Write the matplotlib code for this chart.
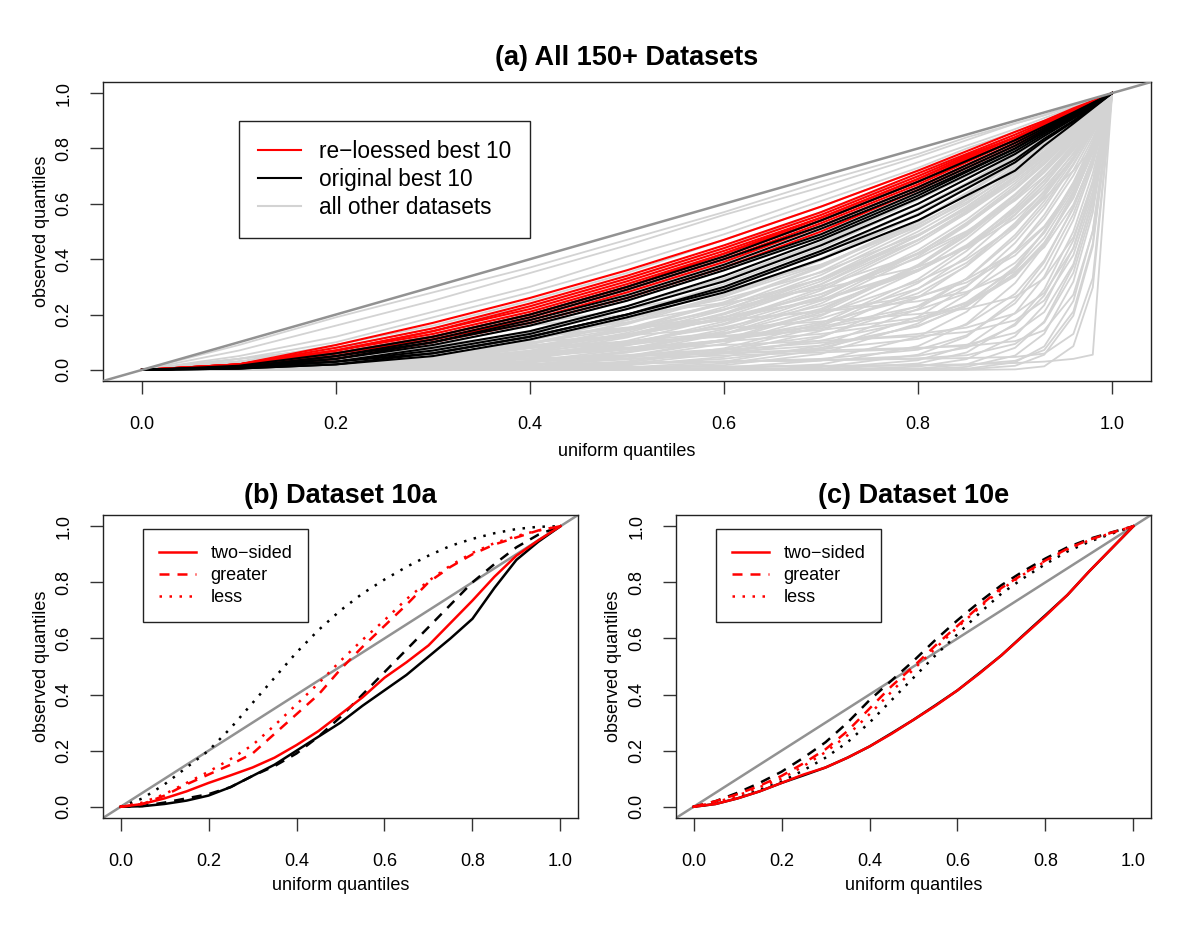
import matplotlib
matplotlib.use('Agg')
import matplotlib.pyplot as plt
from matplotlib.lines import Line2D

plt.rcParams['font.family'] = ['Liberation Sans', 'DejaVu Sans']

# ---------------- panel (a) data: quantile curves on a common grid ----------------
GX = [0, .1, .2, .3, .4, .5, .6, .7, .8, .85, .9, .93, .96, .98, 1.0]

red_best = [
    [0, .02, .09, .17, .26, .36, .47, .59, .72, .79, .86, .90, .945, .972, 1],
    [0, .02, .08, .15, .24, .34, .45, .57, .71, .78, .85, .895, .94, .97, 1],
    [0, .02, .07, .14, .23, .33, .44, .56, .70, .775, .84, .89, .937, .968, 1],
    [0, .02, .07, .14, .22, .32, .43, .55, .69, .77, .84, .888, .935, .967, 1],
    [0, .02, .07, .13, .21, .31, .42, .55, .69, .765, .84, .886, .934, .967, 1],
    [0, .02, .06, .12, .20, .30, .42, .54, .68, .76, .83, .882, .932, .966, 1],
    [0, .015, .06, .12, .20, .30, .41, .54, .68, .755, .83, .88, .93, .965, 1],
    [0, .015, .06, .11, .19, .29, .40, .53, .67, .75, .83, .878, .929, .964, 1],
    [0, .01, .05, .11, .18, .28, .39, .52, .66, .74, .82, .873, .927, .963, 1],
    [0, .01, .04, .10, .17, .26, .37, .50, .65, .73, .81, .866, .922, .96, 1],
]

black_best = [
    [0, .015, .06, .12, .20, .30, .41, .54, .68, .755, .83, .88, .93, .965, 1],
    [0, .01, .05, .11, .19, .29, .40, .52, .66, .74, .82, .873, .927, .963, 1],
    [0, .01, .05, .10, .18, .27, .38, .51, .65, .73, .81, .867, .923, .961, 1],
    [0, .01, .04, .10, .17, .26, .37, .49, .64, .72, .80, .862, .92, .96, 1],
    [0, .01, .04, .09, .16, .25, .36, .48, .63, .715, .80, .858, .917, .958, 1],
    [0, .01, .03, .08, .14, .23, .34, .47, .62, .705, .79, .852, .913, .956, 1],
    [0, .01, .03, .07, .13, .22, .32, .45, .60, .69, .78, .845, .908, .953, 1],
    [0, .005, .03, .06, .12, .20, .30, .43, .58, .67, .76, .835, .90, .95, 1],
    [0, .005, .02, .06, .12, .20, .29, .42, .56, .655, .75, .828, .897, .948, 1],
    [0, .005, .02, .05, .11, .19, .28, .40, .54, .63, .72, .81, .89, .945, 1],
]

gray_other = [
    [0, .09, .19, .28, .37, .47, .57, .68, .78, .84, .89, .92, .955, .978, 1],
    [0, .07, .16, .25, .35, .45, .56, .66, .77, .83, .89, .92, .955, .977, 1],
    [0, .05, .12, .21, .30, .41, .51, .63, .75, .81, .87, .91, .95, .974, 1],
    [0, .04, .10, .19, .28, .38, .49, .61, .73, .80, .86, .90, .945, .972, 1],
    [0, .03, .09, .16, .25, .35, .47, .59, .72, .78, .85, .90, .94, .97, 1],
    [0, .025, .08, .15, .23, .33, .44, .57, .70, .77, .84, .89, .94, .97, 1],
    [0, .02, .065, .13, .21, .31, .42, .55, .68, .76, .84, .88, .93, .966, 1],
    [0, .015, .05, .11, .18, .28, .39, .52, .66, .74, .82, .875, .93, .963, 1],
    [0, .01, .04, .09, .16, .25, .36, .49, .64, .72, .81, .865, .92, .96, 1],
    [0, .007, .03, .075, .14, .23, .33, .46, .62, .70, .80, .855, .915, .958, 1],
    [0, .005, .025, .063, .12, .20, .31, .44, .60, .69, .785, .846, .91, .955, 1],
    [0, .004, .02, .05, .106, .18, .29, .42, .58, .67, .77, .837, .905, .952, 1],
    [0, .003, .015, .044, .092, .165, .265, .396, .56, .655, .76, .828, .90, .949, 1],
    [0, .002, .012, .037, .08, .15, .245, .375, .54, .64, .75, .82, .894, .946, 1],
    [0, .001, .01, .03, .07, .134, .227, .355, .524, .62, .737, .81, .888, .943, 1],
    [0, .001, .008, .027, .064, .125, .216, .343, .512, .614, .729, .804, .885, .941, 1],
    [0, .001, .005, .02, .05, .105, .19, .31, .485, .59, .71, .79, .876, .937, 1],
    [0, 0, .004, .015, .04, .088, .167, .287, .458, .566, .692, .776, .867, .932, 1],
    [0, 0, .003, .011, .032, .075, .147, .262, .433, .543, .674, .762, .858, .927, 1],
    [0, 0, .002, .008, .026, .063, .13, .24, .41, .522, .656, .748, .849, .922, 1],
    [0, 0, .001, .006, .02, .05, .11, .215, .38, .497, .635, .732, .839, .917, 1],
    [0, 0, .001, .004, .015, .042, .095, .195, .358, .474, .616, .716, .829, .911, 1],
    [0, 0, 0, .002, .01, .031, .078, .168, .328, .444, .59, .696, .815, .904, 1],
    [0, 0, 0, .001, .006, .022, .06, .141, .293, .409, .56, .67, .80, .895, 1],
    [0, 0, 0, 0, .004, .016, .047, .118, .262, .377, .531, .647, .783, .886, 1],
    [0, 0, 0, 0, .002, .009, .03, .088, .22, .33, .488, .61, .758, .872, 1],
    [0, 0, 0, 0, .001, .004, .017, .058, .168, .272, .43, .56, .721, .851, 1],
    [0, 0, 0, 0, 0, .001, .008, .034, .12, .21, .367, .502, .678, .825, 1],
    [0, 0, 0, 0, 0, 0, .004, .02, .086, .167, .314, .45, .638, .801, 1],
    [0, 0, 0, 0, 0, 0, .001, .01, .055, .12, .254, .389, .588, .769, 1],
    [0, 0, 0, 0, 0, 0, 0, .005, .035, .087, .206, .337, .542, .739, 1],
    [0, 0, 0, 0, 0, 0, 0, .002, .023, .063, .167, .291, .50, .71, 1],
    [0, 0, 0, 0, 0, 0, 0, 0, .012, .039, .122, .234, .442, .668, 1],
    [0, 0, 0, 0, 0, 0, 0, 0, .005, .02, .08, .175, .375, .616, 1],
    [0, 0, 0, 0, 0, 0, 0, 0, .002, .011, .052, .131, .319, .568, 1],
    [0, 0, 0, 0, 0, 0, 0, 0, 0, .004, .028, .085, .249, .503, 1],
    [0, 0, 0, 0, 0, 0, 0, 0, 0, .002, .015, .055, .196, .446, 1],
    [0, 0, 0, 0, 0, 0, 0, 0, 0, 0, .002, .013, .086, .298, 1],
    [0, .01, .02, .03, .041, .054, .075, .122, .231, .33, .477, .597, .745, .864, 1],
    [0, .02, .04, .06, .081, .103, .134, .186, .294, .387, .524, .634, .769, .877, 1],
    [0, .03, .06, .09, .121, .153, .192, .251, .358, .445, .571, .671, .793, .89, 1],
    [0, .005, .01, .015, .02, .025, .03, .04, .073, .125, .241, .367, .563, .751, 1],
    [0, .01, .02, .03, .04, .05, .06, .075, .112, .163, .275, .396, .584, .763, 1],
    [0, .02, .04, .06, .08, .10, .12, .144, .188, .24, .345, .456, .626, .787, 1],
    [0, .03, .06, .09, .12, .15, .18, .213, .265, .316, .414, .515, .667, .811, 1],
    [0, .005, .01, .015, .02, .025, .03, .035, .042, .053, .094, .171, .351, .589, 1],
    [0, .015, .03, .045, .06, .075, .09, .105, .122, .137, .179, .251, .415, .63, 1],
    [0, .025, .05, .075, .10, .125, .15, .175, .202, .221, .264, .331, .479, .671, 1],
    [0, .002, .004, .006, .008, .01, .012, .014, .016, .019, .033, .072, .211, .457, 1],
    [0, .01, .02, .03, .04, .05, .06, .07, .08, .086, .104, .143, .272, .499, 1],
    [0, .005, .01, .015, .02, .025, .03, .035, .04, .043, .047, .059, .13, .332, 1],
    [0, .01, .02, .032, .049, .078, .13, .221, .375, .485, .621, .719, .83, .912, 1],
    [0, .02, .04, .062, .088, .125, .182, .274, .422, .525, .652, .743, .844, .919, 1],
    [0, .03, .06, .091, .127, .172, .235, .328, .47, .566, .683, .766, .859, .927, 1],
    [0, .04, .08, .121, .166, .219, .287, .381, .517, .606, .714, .79, .873, .934, 1],
    [0, .02, .04, .06, .08, .10, .123, .156, .229, .304, .431, .546, .702, .837, 1],
    [0, .04, .08, .12, .16, .20, .242, .292, .372, .44, .548, .642, .767, .873, 1],
    [0, .01, .02, .03, .04, .05, .064, .088, .157, .235, .373, .498, .67, .819, 1],
    [0, .005, .01, .015, .02, .025, .03, .035, .051, .08, .161, .269, .468, .684, 1],
    [0, .03, .06, .09, .12, .15, .18, .21, .248, .282, .355, .443, .597, .762, 1],
    [0, .005, .02, .045, .081, .127, .189, .274, .404, .496, .62, .713, .821, .906, 1],
    [0, .003, .012, .027, .048, .075, .108, .15, .217, .277, .387, .495, .655, .805, 1],
    [0, .005, .02, .046, .085, .141, .219, .329, .484, .582, .70, .781, .868, .932, 1],
    [0, .002, .008, .018, .032, .05, .072, .098, .13, .153, .204, .278, .439, .646, 1],
    [0, .007, .028, .063, .113, .18, .266, .379, .527, .617, .726, .80, .879, .938, 1],
    [0, .005, .02, .045, .08, .125, .182, .255, .363, .444, .562, .658, .779, .881, 1],
    [0, .016, .045, .083, .129, .185, .256, .352, .489, .581, .693, .772, .862, .928, 1],
    [0, .004, .016, .036, .065, .102, .154, .231, .357, .451, .582, .682, .801, .895, 1],
    [0, .003, .012, .028, .055, .097, .163, .265, .422, .528, .656, .746, .847, .921, 1],
    [0, .006, .024, .054, .096, .15, .218, .302, .418, .501, .612, .699, .808, .896, 1],
    [0, .006, .018, .033, .052, .074, .107, .163, .277, .375, .515, .627, .765, .875, 1],
    [0, .015, .032, .052, .082, .129, .20, .309, .469, .572, .693, .776, .866, .931, 1],
    [0, 0, .002, .008, .019, .038, .065, .106, .179, .245, .363, .477, .645, .799, 1],
    [0, 0, .004, .014, .032, .063, .108, .172, .262, .327, .426, .519, .664, .805, 1],
    [0, .008, .02, .038, .069, .121, .202, .32, .485, .589, .709, .788, .875, .935, 1],
    [0, .01, .025, .042, .061, .081, .103, .13, .178, .232, .339, .452, .624, .786, 1],
    [0, .005, .012, .021, .03, .041, .052, .063, .077, .091, .134, .209, .382, .608, 1],
    [0, .002, .004, .006, .008, .01, .012, .015, .018, .02, .025, .03, .04, .055, 1],
    [0, .01, .02, .04, .06, .09, .13, .20, .32, .40, .52, .62, .72, .80, 1],
    [0, 0, .002, .005, .01, .02, .04, .08, .16, .23, .35, .46, .62, .79, 1],
    [0, .006, .027, .065, .12, .195, .295, .425, .585, .675, .775, .84, .908, .954, 1],
    [0, .004, .018, .047, .097, .17, .272, .403, .565, .66, .765, .832, .902, .95, 1],
    [0, .002, .012, .035, .078, .145, .24, .37, .535, .635, .745, .818, .893, .945, 1],
    [0, .001, .007, .024, .058, .117, .205, .33, .50, .60, .72, .80, .882, .94, 1],
    [0, 0, .004, .017, .043, .094, .175, .295, .468, .575, .70, .782, .87, .934, 1],
    [0, 0, .002, .009, .028, .068, .14, .25, .42, .532, .665, .755, .853, .925, 1],
    [0, 0, .001, .005, .018, .048, .105, .208, .374, .49, .63, .727, .836, .915, 1],
    [0, 0, 0, .002, .008, .027, .07, .157, .314, .43, .578, .685, .809, .90, 1],
    [0, 0, 0, 0, .001, .006, .023, .072, .192, .30, .459, .584, .74, .861, 1],
    [0, .006, .03, .072, .135, .22, .325, .455, .615, .70, .795, .853, .914, .957, 1],
]

# ---------------- panels (b) and (c) data ----------------
XB = [0, .05, .1, .15, .2, .25, .3, .35, .4, .45, .5,
      .55, .6, .65, .7, .75, .8, .85, .9, .95, 1.0]

b_orig_two = [0, .002, .01, .022, .04, .07, .11, .15, .20, .25, .30,
              .36, .415, .47, .535, .60, .67, .78, .88, .945, 1]
b_orig_greater = [0, .003, .015, .03, .045, .07, .11, .145, .19, .25, .32,
                  .40, .48, .56, .64, .72, .80, .865, .925, .97, 1]
b_orig_less = [0, .03, .08, .14, .20, .28, .37, .46, .55, .63, .70,
               .76, .81, .855, .895, .93, .955, .975, .99, .998, 1]
b_new_two = [0, .01, .03, .055, .085, .112, .14, .175, .22, .27, .33,
             .39, .46, .515, .575, .655, .735, .82, .895, .95, 1]
b_new_greater = [0, .01, .04, .08, .115, .15, .19, .26, .33, .40, .49,
                 .57, .645, .72, .80, .855, .90, .935, .96, .985, 1]
b_new_less = [0, .015, .045, .085, .125, .17, .22, .29, .365, .44, .52,
              .595, .665, .74, .805, .86, .905, .94, .965, .985, 1]

c_orig_two = [0, .01, .03, .055, .085, .112, .14, .175, .215, .262, .31,
              .362, .415, .477, .54, .612, .683, .755, .84, .92, 1]
c_orig_greater = [0, .02, .05, .085, .125, .175, .23, .30, .38, .45, .52,
                  .595, .665, .73, .79, .84, .885, .925, .955, .978, 1]
c_orig_less = [0, .012, .032, .06, .09, .13, .175, .23, .30, .38, .46,
               .54, .615, .69, .76, .815, .865, .91, .945, .973, 1]
c_new_two = [0, .01, .03, .055, .085, .115, .14, .175, .215, .26, .31,
             .36, .415, .475, .54, .61, .68, .755, .84, .92, 1]
c_new_greater = [0, .02, .045, .075, .11, .155, .205, .27, .35, .43, .50,
                 .575, .645, .715, .78, .83, .878, .92, .952, .977, 1]
c_new_less = [0, .015, .04, .07, .10, .145, .195, .255, .33, .41, .49,
              .565, .64, .71, .775, .828, .875, .918, .95, .976, 1]

tick_vals = [0.0, 0.2, 0.4, 0.6, 0.8, 1.0]
tick_labels = ['0.0', '0.2', '0.4', '0.6', '0.8', '1.0']

# ---------------- figure ----------------
W, H = 1200, 927
fig = plt.figure(figsize=(12, 9.27), dpi=100)

RED = '#FF0000'
LGRAY = '#D3D3D3'
DIAG = '#929292'
TICK_FS = 13
LAB_FS = 13


def add_ax(l, t, r, b):
    return fig.add_axes([l / W, 1 - b / H, (r - l) / W, (b - t) / H])


def style(ax):
    ax.set_xlim(-0.04, 1.04)
    ax.set_ylim(-0.04, 1.04)
    ax.set_xticks(tick_vals)
    ax.set_xticklabels(tick_labels)
    ax.set_yticks(tick_vals)
    ax.set_yticklabels(tick_labels, rotation=90, va='center')
    ax.tick_params(axis='x', length=9.5, width=1.0, pad=16, labelsize=TICK_FS,
                   color='#333333')
    ax.tick_params(axis='y', length=9.5, width=1.0, pad=12.5, labelsize=TICK_FS,
                   color='#333333')
    for s in ax.spines.values():
        s.set_linewidth(1.0)
        s.set_color('#222222')
    ax.plot([-0.04, 1.04], [-0.04, 1.04], color=DIAG, lw=1.8, zorder=6,
            solid_capstyle='butt')


def figtext(x, y, s, **kw):
    fig.text(x / W, 1 - y / H, s, ha='center', va='center', **kw)


# ----- panel (a)
axA = add_ax(103, 82, 1151, 381)
for ys in gray_other:
    axA.plot(GX, ys, color=LGRAY, lw=1.3, zorder=1)
for ys in red_best:
    axA.plot(GX, ys, color=RED, lw=1.5, zorder=3)
for ys in black_best:
    axA.plot(GX, ys, color='black', lw=1.5, zorder=4)
style(axA)
hA = [Line2D([], [], color=RED, lw=1.5),
      Line2D([], [], color='black', lw=1.5),
      Line2D([], [], color=LGRAY, lw=1.5)]
legA = axA.legend(hA, ['re\u2212loessed best 10', 'original best 10',
                       'all other datasets'],
                  loc='upper left', bbox_to_anchor=(0.1298, 0.8696),
                  fontsize=16.3, frameon=True, fancybox=False, framealpha=1,
                  edgecolor='#222222', borderpad=0.82, labelspacing=0.23,
                  handlelength=1.9, handletextpad=0.8, borderaxespad=0)
legA.get_frame().set_linewidth(1.0)
legA.set_zorder(10)

figtext(627, 58, '(a) All 150+ Datasets', fontsize=19.5, fontweight='bold')
figtext(627, 451, 'uniform quantiles', fontsize=LAB_FS)
figtext(42, 231, 'observed quantiles', fontsize=LAB_FS, rotation=90)


# ----- panels (b) and (c)
def bottom_panel(l, r, data, title, ylabx):
    ax = add_ax(l, 515, r, 818)
    o_two, o_gr, o_le, n_two, n_gr, n_le = data
    lw = 1.8
    ax.plot(XB, o_two, color='black', lw=lw, zorder=2)
    ax.plot(XB, o_gr, color='black', lw=lw, dashes=(4, 3.2), zorder=2)
    ax.plot(XB, o_le, color='black', lw=lw, dashes=(1, 3), zorder=2)
    ax.plot(XB, n_two, color=RED, lw=lw, zorder=3)
    ax.plot(XB, n_gr, color=RED, lw=lw, dashes=(4, 3.2), zorder=3)
    ax.plot(XB, n_le, color=RED, lw=lw, dashes=(1, 3), zorder=3)
    style(ax)
    ax.lines[-1].set_zorder(1)
    h = [Line2D([], [], color=RED, lw=lw),
         Line2D([], [], color=RED, lw=lw, dashes=(4, 3.2)),
         Line2D([], [], color=RED, lw=lw, dashes=(1, 3))]
    leg = ax.legend(h, ['two\u2212sided', 'greater', 'less'],
                    loc='upper left',
                    bbox_to_anchor=(40 / (r - l), 1 - (529 - 515) / 303),
                    fontsize=13, frameon=True, fancybox=False, framealpha=1,
                    edgecolor='#222222', borderpad=0.88, labelspacing=0.29,
                    handlelength=2.05, handletextpad=0.8, borderaxespad=0)
    leg.get_frame().set_linewidth(1.0)
    leg.set_zorder(10)
    cx = (l + r) / 2
    figtext(cx, 496, title, fontsize=19.5, fontweight='bold')
    figtext(cx, 885, 'uniform quantiles', fontsize=LAB_FS)
    figtext(ylabx, 666, 'observed quantiles', fontsize=LAB_FS, rotation=90)
    return ax


bottom_panel(103, 578,
             (b_orig_two, b_orig_greater, b_orig_less,
              b_new_two, b_new_greater, b_new_less),
             '(b) Dataset 10a', 42)
bottom_panel(676, 1151,
             (c_orig_two, c_orig_greater, c_orig_less,
              c_new_two, c_new_greater, c_new_less),
             '(c) Dataset 10e', 613)

fig.savefig('out.png', dpi=100)
